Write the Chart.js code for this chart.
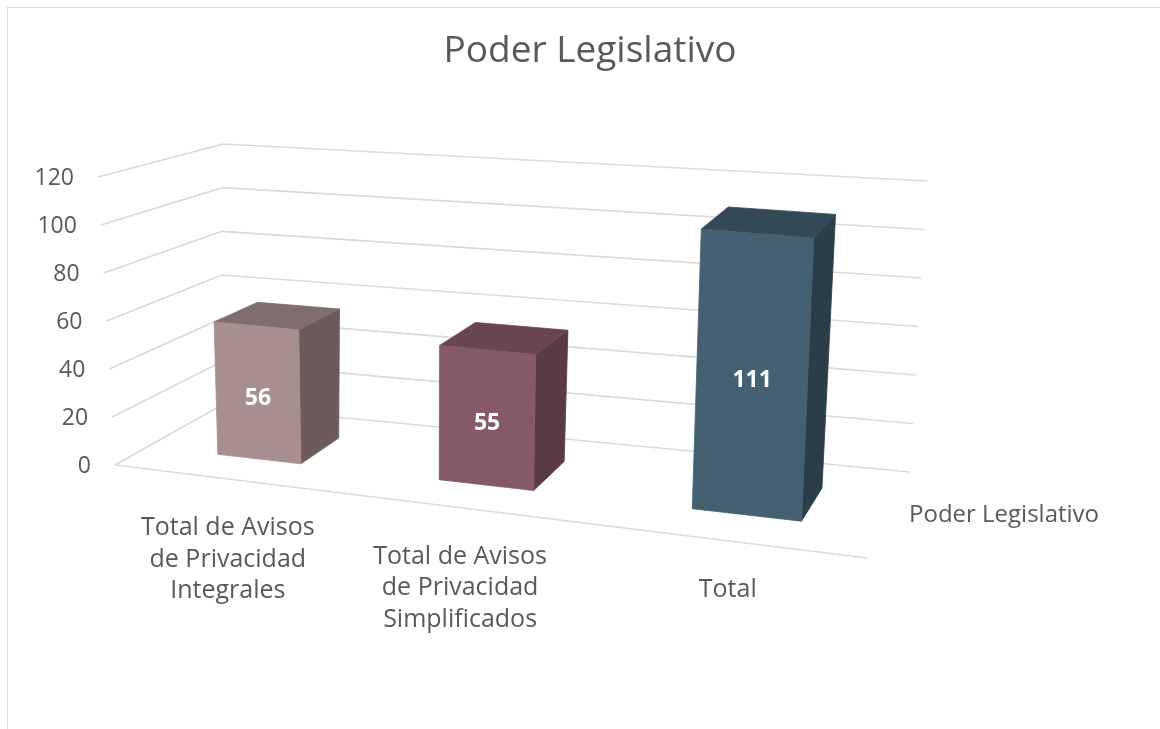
<!DOCTYPE html>
<html>
<head>
<meta charset="utf-8">
<script src="https://cdn.jsdelivr.net/npm/chart.js@4.4.1/dist/chart.umd.min.js"></script>
<style>
  html, body { margin: 0; padding: 0; background: #fff; overflow: hidden; }
  #cornice { position: absolute; left: 7px; top: 7px; width: 1200px; height: 800px; border: 1.5px solid #d9d9d9; box-sizing: border-box; }
  #contenitore { position: absolute; left: 0; top: 0; width: 1160px; height: 729px; }
</style>
</head>
<body>
<div id="cornice"></div>
<div id="contenitore"><canvas id="grafico-poder"></canvas></div>
<script>
// Dati
const titolo = 'Poder Legislativo';
const nomeSerie = 'Poder Legislativo';
const categorie = [
    ['Total de Avisos', 'de Privacidad', 'Integrales'],
    ['Total de Avisos', 'de Privacidad', 'Simplificados'],
    'Total'
];
const valori = [56, 55, 111];
const tickAsseY = [0, 20, 40, 60, 80, 100, 120];

// Colori delle facce (fronte, sopra, lato)
const coloriFronte = ['#a68f8e', '#85586a', '#456171'];
const coloriSopra = ['#7e6e6e', '#68454f', '#344956'];
const coloriLato = ['#6b5b5b', '#5a3a44', '#2b3d47'];

const FONT = '"Open Sans", "DejaVu Sans", sans-serif';
const GRIGIO_TESTO = '#595959';
const GRIGIO_GRIGLIA = '#d9d9d9';

// Scena prospettica: angoli del pavimento (fronte-sx, fronte-dx, retro-dx, retro-sx)
const pavimento = [[115, 465], [867, 558], [910, 472], [220, 406]];
// spostamento verticale a fondo scala negli stessi angoli [dx, altezza]
const sollevamento = [[-17, 288], [15, 316], [17, 291], [3, 262]];
const SPOSTAMENTO_U = 0.012;
const PESO_PROSPETTIVA = 0.8;
const PROF_DAVANTI = 0.3, PROF_DIETRO = 0.7;

// Omografia quadrato unitario -> quadrilatero
function mappaQuad(q) {
    const [x0, y0] = q[0], [x1, y1] = q[1], [x2, y2] = q[2], [x3, y3] = q[3];
    const dx1 = x1 - x2, dx2 = x3 - x2, dx3 = x0 - x1 + x2 - x3;
    const dy1 = y1 - y2, dy2 = y3 - y2, dy3 = y0 - y1 + y2 - y3;
    const den = dx1 * dy2 - dx2 * dy1;
    const g = (dx3 * dy2 - dx2 * dy3) / den;
    const h = (dx1 * dy3 - dx3 * dy1) / den;
    const a = x1 - x0 + g * x1, b = x3 - x0 + h * x3;
    const d = y1 - y0 + g * y1, e = y3 - y0 + h * y3;
    return (u, v) => {
        const w = g * u + h * v + 1;
        return [(a * u + b * v + x0) / w, (d * u + e * v + y0) / w];
    };
}
const mappaPavimento = mappaQuad(pavimento);

function lerp(a, b, t) { return a + (b - a) * t; }

// Interpolazione bilineare sugli angoli del pavimento
function bilineare(u, p) {
    const fx = lerp(pavimento[0][0], pavimento[1][0], u), fy = lerp(pavimento[0][1], pavimento[1][1], u);
    const rx = lerp(pavimento[3][0], pavimento[2][0], u), ry = lerp(pavimento[3][1], pavimento[2][1], u);
    return [lerp(fx, rx, p), lerp(fy, ry, p)];
}

// u: posizione lungo le categorie (0..1), p: profondità (0..1), t: frazione della scala Y
function punto(u, p, t) {
    const hm = mappaPavimento(u, p), bl = bilineare(u, p);
    const fx = lerp(bl[0], hm[0], PESO_PROSPETTIVA), fy = lerp(bl[1], hm[1], PESO_PROSPETTIVA);
    const dxF = lerp(sollevamento[0][0], sollevamento[1][0], u);
    const hF = lerp(sollevamento[0][1], sollevamento[1][1], u);
    const dxR = lerp(sollevamento[3][0], sollevamento[2][0], u);
    const hR = lerp(sollevamento[3][1], sollevamento[2][1], u);
    const dx = lerp(dxF, dxR, p), hh = lerp(hF, hR, p);
    return [fx + t * dx, fy - t * hh];
}

function poligono(ctx, punti, colore) {
    ctx.beginPath();
    ctx.moveTo(punti[0][0], punti[0][1]);
    for (let i = 1; i < punti.length; i++) ctx.lineTo(punti[i][0], punti[i][1]);
    ctx.closePath();
    ctx.fillStyle = colore;
    ctx.strokeStyle = colore;
    ctx.lineWidth = 0.8;
    ctx.fill();
    ctx.stroke();
}

// Plugin che disegna pareti, barre 3D ed etichette usando le scale del grafico
const scena3D = {
    id: 'scena3D',
    afterDatasetsDraw(chart) {
        const ctx = chart.ctx;
        const xs = chart.scales.x, ys = chart.scales.y;
        const base = ys.getPixelForValue(ys.min);
        const range = base - ys.getPixelForValue(ys.max);
        const frazione = v => (base - ys.getPixelForValue(v)) / range;
        const uDa = px => (px - xs.left) / xs.width + SPOSTAMENTO_U;

        ctx.save();

        // Griglia sulle pareti
        ctx.strokeStyle = GRIGIO_GRIGLIA;
        ctx.lineWidth = 1.6;
        ys.ticks.forEach(tk => {
            const t = frazione(tk.value);
            const a = punto(0, 0, t), b = punto(0, 1, t), c = punto(1, 1, t);
            ctx.beginPath();
            ctx.moveTo(a[0], a[1]);
            ctx.lineTo(b[0], b[1]);
            ctx.lineTo(c[0], c[1]);
            ctx.stroke();
        });
        // Bordo anteriore del pavimento
        const f0 = punto(0, 0, 0), f1 = punto(1, 0, 0);
        ctx.beginPath();
        ctx.moveTo(f0[0], f0[1]);
        ctx.lineTo(f1[0], f1[1]);
        ctx.stroke();

        // Etichette asse Y
        ctx.fillStyle = GRIGIO_TESTO;
        ctx.font = '23px ' + FONT;
        ctx.textAlign = 'right';
        ctx.textBaseline = 'middle';
        ys.ticks.forEach(tk => {
            const a = punto(0, 0, frazione(tk.value));
            ctx.fillText(String(tk.value), a[0] - 24, a[1] + 1);
        });

        // Etichette categorie
        ctx.textAlign = 'center';
        ctx.font = '25px ' + FONT;
        categorie.forEach((cat, i) => {
            const u = uDa(xs.getPixelForValue(i));
            const f = punto(u, 0, 0);
            const righe = Array.isArray(cat) ? cat : [cat];
            righe.forEach((riga, k) => {
                ctx.fillText(riga, f[0], f[1] + 49 + k * 31.5);
            });
        });

        // Barre 3D
        const meta = chart.getDatasetMeta(0);
        meta.data.forEach((el, i) => {
            const v = chart.data.datasets[0].data[i];
            const u0 = uDa(el.x - el.width / 2), u1 = uDa(el.x + el.width / 2);
            const t = frazione(v);
            const p0 = PROF_DAVANTI, p1 = PROF_DIETRO;

            poligono(ctx, [punto(u1, p0, 0), punto(u1, p1, 0), punto(u1, p1, t), punto(u1, p0, t)], coloriLato[i]);
            poligono(ctx, [punto(u0, p0, t), punto(u1, p0, t), punto(u1, p1, t), punto(u0, p1, t)], coloriSopra[i]);
            const fronte = [punto(u0, p0, 0), punto(u1, p0, 0), punto(u1, p0, t), punto(u0, p0, t)];
            poligono(ctx, fronte, coloriFronte[i]);

            // Etichetta valore al centro della faccia frontale
            const cx = fronte.reduce((s, q) => s + q[0], 0) / 4;
            const cy = fronte.reduce((s, q) => s + q[1], 0) / 4;
            ctx.fillStyle = '#ffffff';
            ctx.font = 'bold 23px ' + FONT;
            ctx.textAlign = 'center';
            ctx.textBaseline = 'middle';
            ctx.fillText(String(v), cx, cy + 6);
        });

        // Legenda (solo testo)
        const angolo = punto(1, 1, 0);
        ctx.fillStyle = GRIGIO_TESTO;
        ctx.font = '24px ' + FONT;
        ctx.textAlign = 'left';
        ctx.textBaseline = 'middle';
        ctx.fillText(chart.data.datasets[0].label, angolo[0] - 1, angolo[1] + 43);

        ctx.restore();
    }
};

document.addEventListener('DOMContentLoaded', function() {
    const canvas = document.getElementById('grafico-poder');
    const ctx = canvas.getContext('2d');

    new Chart(ctx, {
        type: 'bar',
        data: {
            labels: categorie,
            datasets: [{
                label: nomeSerie,
                data: valori,
                backgroundColor: 'rgba(0,0,0,0)',
                borderWidth: 0,
                barPercentage: 0.39,
                categoryPercentage: 1
            }]
        },
        options: {
            responsive: true,
            maintainAspectRatio: false,
            animation: false,
            layout: { padding: { left: 20, right: 0, top: 0, bottom: 0 } },
            plugins: {
                legend: { display: false },
                tooltip: { enabled: false },
                title: {
                    display: true,
                    text: titolo,
                    color: GRIGIO_TESTO,
                    font: { family: FONT, size: 37, weight: 'normal' },
                    padding: { top: 29, bottom: 20 }
                }
            },
            scales: {
                x: { display: false },
                y: {
                    display: false,
                    min: tickAsseY[0],
                    max: tickAsseY[tickAsseY.length - 1],
                    ticks: { stepSize: tickAsseY[1] - tickAsseY[0] }
                }
            }
        },
        plugins: [scena3D]
    });
});
</script>
</body>
</html>
